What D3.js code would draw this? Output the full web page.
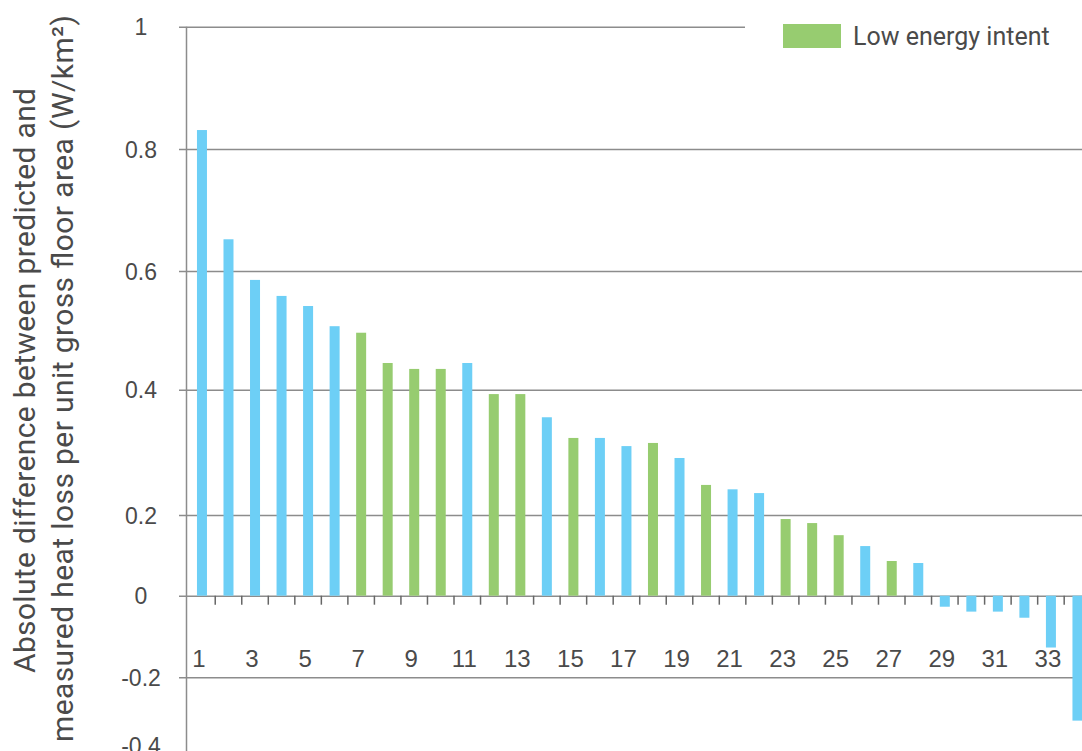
<!DOCTYPE html>
<html>
<head>
    <meta charset="UTF-8">
    <script src="https://d3js.org/d3.v7.min.js"></script>
    <style>
        body { margin: 0; background: #fff; }
        svg { display: block; font-family: Roboto, "Noto Sans", sans-serif; }
        .axis-y text { font-size: 23px; fill: #4a4a4a; }
        .axis-x text { font-size: 24px; fill: #4a4a4a; }
        .grid line { stroke: #8c8c8c; stroke-width: 1.5; }
        .legend text { font-size: 25px; fill: #4a4a4a; }
        .ytitle { font-size: 30px; fill: #4a4a4a; }
    </style>
</head>
<body>
    <svg id="chart" width="1082" height="751"></svg>

    <script>
        // building numbers (sorted by difference)
        const categories = [1, 2, 3, 4, 5, 6, 7, 8, 9, 10, 11, 12, 13, 14, 15, 16, 17,
            18, 19, 20, 21, 22, 23, 24, 25, 26, 27, 28, 29, 30, 31, 32, 33, 34];
        const values = [0.831, 0.652, 0.585, 0.558, 0.541, 0.507, 0.496, 0.445, 0.435, 0.435,
            0.445, 0.393, 0.393, 0.356, 0.323, 0.323, 0.310, 0.315, 0.291, 0.248,
            0.241, 0.235, 0.190, 0.180, 0.150, 0.123, 0.086, 0.081, -0.027, -0.039,
            -0.039, -0.054, -0.127, -0.328];
        const lowEnergy = [7, 8, 9, 10, 12, 13, 15, 18, 20, 23, 24, 25, 27];
        const yTicks = [-0.4, -0.2, 0, 0.2, 0.4, 0.6, 0.8, 1];
        const xTickLabels = [1, 3, 5, 7, 9, 11, 13, 15, 17, 19, 21, 23, 25, 27, 29, 31, 33];
        const legendLabel = "Low energy intent";
        const titleLines = ["Absolute difference between predicted and",
            "measured heat loss per unit gross floor area (W/km²)"];

        const blue = "#6dcff6", green = "#97cc70";
        const width = 1082, height = 751;
        const axisX = 186.5;

        let svg = d3.select("#chart");

        // the printed axis is not evenly spaced, so use a piecewise scale
        let y = d3.scaleLinear()
            .domain(yTicks)
            .range([745, 677.3, 595.7, 515, 389.7, 271, 149, 26.7]);

        let x = d3.scaleBand()
            .domain(categories)
            .range([188.7, 188.7 + 26.53 * categories.length])
            .paddingInner(0.623)
            .paddingOuter(0.3115);

        // y axis with gridlines
        let yAxis = svg.append("g")
            .attr("class", "axis-y grid")
            .attr("transform", "translate(" + axisX + ",0)")
            .call(d3.axisLeft(y)
                .tickValues(yTicks)
                .tickFormat(d => String(d))
                .tickSizeOuter(0));
        yAxis.select(".domain").remove();
        yAxis.selectAll(".tick line")
            .attr("x1", -7.5)
            .attr("x2", d => d === 1 ? 745 - axisX : width - axisX)
            .style("display", d => d === -0.4 ? "none" : null);  // cut off in the original
        yAxis.selectAll(".tick text")
            .attr("x", 141 - axisX)
            .attr("dy", "0.35em")
            .attr("text-anchor", "middle");

        svg.append("line")
            .attr("x1", axisX).attr("x2", axisX)
            .attr("y1", y(1)).attr("y2", height)
            .attr("stroke", "#8c8c8c")
            .attr("stroke-width", 1.5);

        // bars
        svg.selectAll("rect.bar")
            .data(categories)
            .join("rect")
            .attr("class", "bar")
            .attr("x", c => x(c))
            .attr("width", x.bandwidth())
            .attr("y", (c, i) => Math.min(y(values[i]), y(0)))
            .attr("height", (c, i) => Math.abs(y(values[i]) - y(0)))
            .attr("fill", c => lowEnergy.includes(c) ? green : blue);

        // small ticks between categories under the zero line
        let gap = (x.step() - x.bandwidth()) / 2;
        svg.selectAll("line.xtick")
            .data(categories.slice(1))
            .join("line")
            .attr("class", "xtick")
            .attr("x1", c => x(c) - gap)
            .attr("x2", c => x(c) - gap)
            .attr("y1", y(0))
            .attr("y2", y(0) + 9)
            .attr("stroke", "#666")
            .attr("stroke-width", 1.5);

        // category labels
        let xAxis = svg.append("g")
            .attr("class", "axis-x")
            .attr("transform", "translate(-3,647)")
            .call(d3.axisBottom(x).tickValues(xTickLabels).tickSize(0));
        xAxis.select(".domain").remove();

        // y title, two lines
        svg.append("text")
            .attr("class", "ytitle")
            .attr("transform", "translate(35,380.5) rotate(-90)")
            .attr("text-anchor", "middle")
            .attr("textLength", 585)
            .attr("lengthAdjust", "spacing")
            .text(titleLines[0]);
        svg.append("text")
            .attr("class", "ytitle")
            .attr("transform", "translate(73,378.5) rotate(-90)")
            .attr("text-anchor", "middle")
            .attr("textLength", 727)
            .attr("lengthAdjust", "spacing")
            .text(titleLines[1]);

        // legend
        let legend = svg.append("g").attr("class", "legend");
        legend.append("rect")
            .attr("x", 783).attr("y", 24)
            .attr("width", 58).attr("height", 24)
            .attr("fill", green);
        legend.append("text")
            .attr("x", 853).attr("y", 36)
            .attr("dy", "0.35em")
            .text(legendLabel);
    </script>
</body>
</html>
